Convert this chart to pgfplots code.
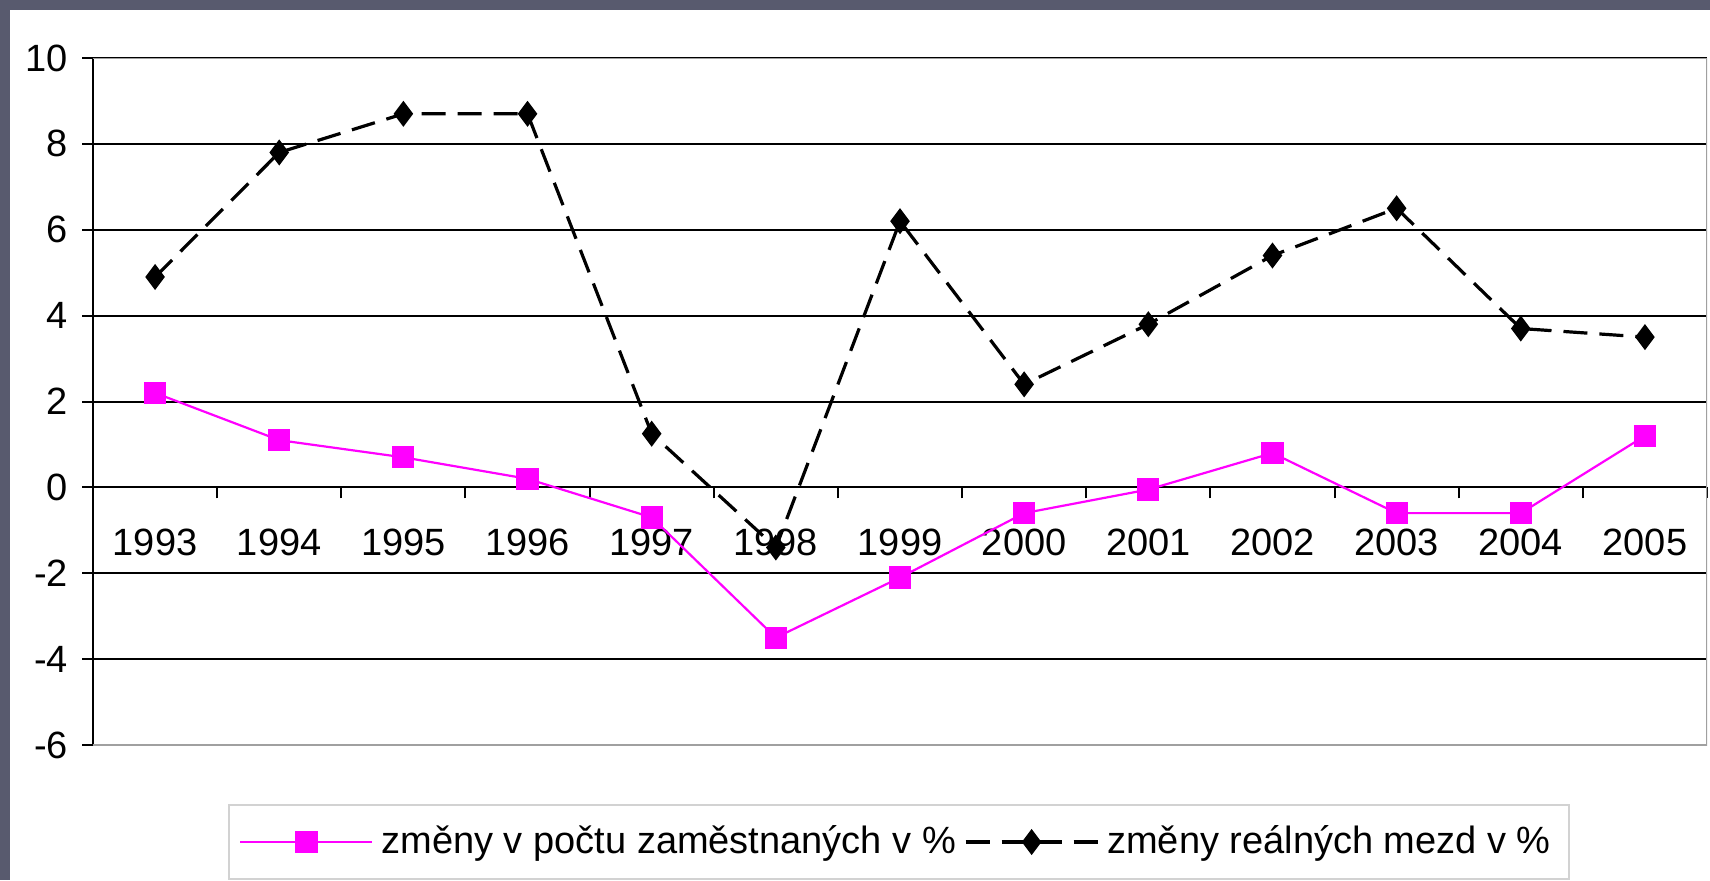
\documentclass[border=0pt]{standalone}
\usepackage{fontspec}
\setmainfont{Liberation Sans}
\usepackage{pgfplots}
\pgfplotsset{compat=1.18}
\definecolor{slate}{RGB}{88,90,110}
\definecolor{mag}{RGB}{255,0,255}
\definecolor{frame}{RGB}{160,160,160}
\begin{document}
\begin{tikzpicture}
\fill[slate] (0,0) rectangle (427.5pt,220pt);
\fill[white] (2.5pt,0) rectangle (427.5pt,217.5pt);
\begin{axis}[
    at={(23.25pt,33.75pt)}, anchor=south west,
    scale only axis, width=403.5pt, height=171.75pt,
    xmin=-0.5, xmax=12.5, ymin=-6, ymax=10,
    axis y line*=left, axis x line*=middle,
    hide obscured x ticks=false, hide obscured y ticks=false,
    axis line style={black, line width=0.5pt},
    font=\fontsize{9.5}{11}\selectfont,
    /pgf/number format/assume math mode=true,
    ytick={-6,-4,...,10},
    ymajorgrids, grid style={black, line width=0.5pt},
    xtick={0,...,12},
    xticklabels={1993,1994,1995,1996,1997,1998,1999,2000,2001,2002,2003,2004,2005},
    minor xtick={-0.5,0.5,...,12.5},
    major x tick style={draw=none},
    minor x tick style={black, line width=0.5pt},
    ytick style={black, line width=0.5pt},
    tick align=outside,
    major tick length=2.75pt, minor tick length=2.75pt,
    xticklabel style={yshift=-4pt},
    legend columns=2,
    legend style={at={(0.4994,-0.1412)}, anchor=center, draw=gray!35,
        line width=0.5pt, font=\fontsize{9.5}{11}\selectfont,
        inner xsep=2.5pt, inner ysep=3pt},
    legend image code/.code={\draw[mark repeat=2,mark phase=2,#1]
        plot coordinates {(0pt,0pt) (16.5pt,0pt) (33pt,0pt)};},
]
\addplot[mag, line width=0.55pt, mark=square*, mark size=2.5pt] coordinates {
(0,2.2)(1,1.1)(2,0.7)(3,0.2)(4,-0.7)(5,-3.5)(6,-2.1)
(7,-0.6)(8,-0.05)(9,0.8)(10,-0.6)(11,-0.6)(12,1.2)
};
\addlegendentry{změny v počtu zaměstnaných v \%}
\addplot[black, line width=0.8pt, dash pattern=on 6pt off 3pt,
    mark=diamond*, mark size=2.6pt, mark options={solid}] coordinates {
(0,4.9)(1,7.8)(2,8.7)(3,8.7)(4,1.25)(5,-1.4)(6,6.2)
(7,2.4)(8,3.8)(9,5.4)(10,6.5)(11,3.7)(12,3.5)
};
\addlegendentry{změny reálných mezd v \%}
\draw[frame, line width=0.6pt] (rel axis cs:0,0) -- (rel axis cs:1,0)
    -- (rel axis cs:1,1) -- (rel axis cs:0,1);
\end{axis}
\end{tikzpicture}
\end{document}
